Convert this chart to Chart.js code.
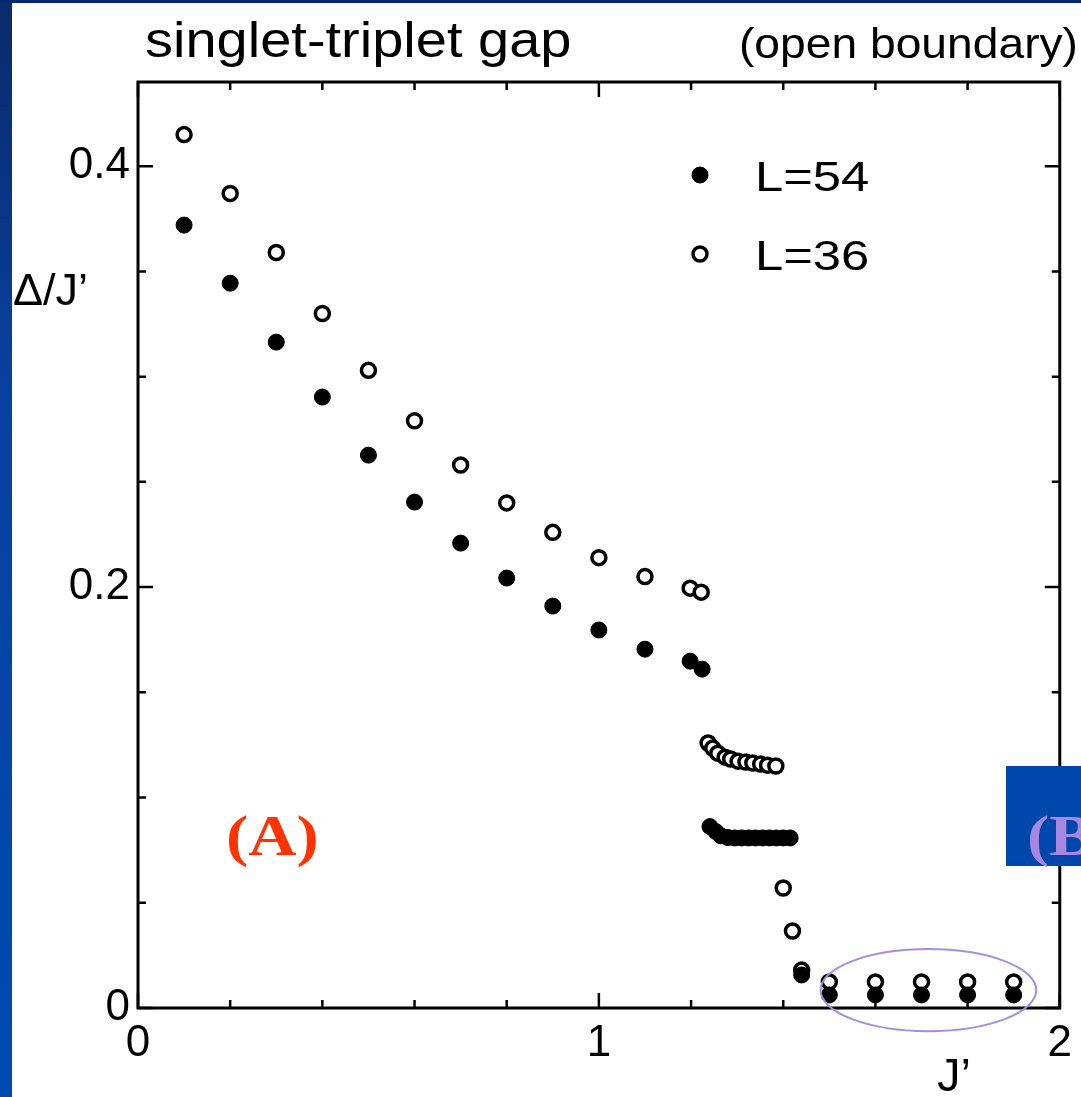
<!DOCTYPE html>
<html>
<head>
<meta charset="utf-8">
<script src="https://cdn.jsdelivr.net/npm/chart.js@4.4.0/dist/chart.umd.min.js"></script>
<style>
  html, body { margin: 0; padding: 0; background: #fff; overflow: hidden; }
  canvas { display: block; }
</style>
</head>
<body>
<canvas id="gapChart" width="1081" height="1097"></canvas>
<script>
// singlet-triplet gap vs J', two chain lengths
const jL54 = [0.1, 0.2, 0.3, 0.4, 0.5, 0.6, 0.7, 0.8, 0.9, 1.0, 1.1, 1.198, 1.224,
  1.241, 1.254, 1.265, 1.28, 1.295, 1.31, 1.325, 1.34, 1.355, 1.37, 1.385, 1.40, 1.415,
  1.44, 1.5, 1.6, 1.7, 1.8, 1.9];
const gapL54 = [0.372, 0.3444, 0.3164, 0.2903, 0.2627, 0.2404, 0.2209, 0.2043, 0.191, 0.1796, 0.1705, 0.1648, 0.161,
  0.0862, 0.0838, 0.0818, 0.0810, 0.0808, 0.0808, 0.0808, 0.0808, 0.0808, 0.0808, 0.0808, 0.0808, 0.0808,
  0.0157, 0.0062, 0.0062, 0.0062, 0.0062, 0.0062];

const jL36 = [0.1, 0.2, 0.3, 0.4, 0.5, 0.6, 0.7, 0.8, 0.9, 1.0, 1.1, 1.198, 1.222,
  1.237, 1.247, 1.258, 1.274, 1.286, 1.302, 1.319, 1.334, 1.351, 1.366, 1.384,
  1.40, 1.42, 1.44, 1.5, 1.6, 1.7, 1.8, 1.9];
const gapL36 = [0.415, 0.387, 0.359, 0.330, 0.303, 0.279, 0.258, 0.240, 0.226, 0.214, 0.205, 0.1995, 0.1976,
  0.1259, 0.1235, 0.1211, 0.1192, 0.1183, 0.1173, 0.1169, 0.1164, 0.1159, 0.1154, 0.1150,
  0.057, 0.0366, 0.018, 0.0124, 0.0124, 0.0124, 0.0124, 0.0124];

const xTickVals = [0, 0.2, 0.4, 0.6, 0.8, 1, 1.2, 1.4, 1.6, 1.8, 2];
const xTickLabels = ['0', '', '', '', '', '1', '', '', '', '', '2'];
const yTickVals = [0, 0.05, 0.1, 0.15, 0.2, 0.25, 0.3, 0.35, 0.4];
const yTickLabels = ['0', '', '', '', '0.2', '', '', '', '0.4'];

const SANS = '"Liberation Sans", Arial, sans-serif';
const SERIF = '"Liberation Serif", "Times New Roman", serif';

// text with a horizontal stretch, like the slide's widened lettering
function stretchText(ctx, text, x, y, font, color, sx, align) {
  ctx.save();
  ctx.font = font;
  ctx.fillStyle = color;
  ctx.textBaseline = 'alphabetic';
  const w = ctx.measureText(text).width * sx;
  const left = align === 'right' ? x - w : x;
  ctx.translate(left, y);
  ctx.scale(sx, 1);
  ctx.textAlign = 'left';
  ctx.fillText(text, 0, 0);
  ctx.restore();
}

const paper = {
  id: 'paper',
  beforeDraw(chart) {
    const { ctx, width, height } = chart;
    ctx.save();
    ctx.fillStyle = '#fff';
    ctx.fillRect(0, 0, width, height);
    const g = ctx.createLinearGradient(0, 0, 0, height);
    g.addColorStop(0, '#0a2a68');
    g.addColorStop(0.35, '#0840a0');
    g.addColorStop(1, '#004bb0');
    ctx.fillStyle = g;
    ctx.fillRect(0, 0, 12, height);
    ctx.fillStyle = '#03296a';
    ctx.fillRect(0, 0, width, 3);
    ctx.restore();
  },
  beforeDatasetsDraw(chart) {
    const { ctx, chartArea: a, scales: { x, y } } = chart;
    ctx.save();
    ctx.strokeStyle = '#000';
    ctx.lineWidth = 2.5;
    // inward ticks on all four sides
    x.ticks.forEach((t, i) => {
      const px = x.getPixelForValue(t.value);
      const len = xTickLabels[i] ? 15 : 8;
      ctx.beginPath();
      ctx.moveTo(px, a.bottom); ctx.lineTo(px, a.bottom - len);
      ctx.moveTo(px, a.top); ctx.lineTo(px, a.top + len);
      ctx.stroke();
    });
    y.ticks.forEach((t, i) => {
      const py = y.getPixelForValue(t.value);
      const len = yTickLabels[i] ? 15 : 8;
      ctx.beginPath();
      ctx.moveTo(a.left, py); ctx.lineTo(a.left + len, py);
      ctx.moveTo(a.right, py); ctx.lineTo(a.right - len, py);
      ctx.stroke();
    });
    ctx.lineWidth = 3;
    ctx.strokeRect(a.left, a.top, a.right - a.left, a.bottom - a.top);
    ctx.restore();
  },
  afterDatasetsDraw(chart) {
    const { ctx, scales: { x, y } } = chart;
    ctx.save();

    // headings and axis names
    stretchText(ctx, 'singlet-triplet gap', 145, 57, '50px ' + SANS, '#000', 1.12, 'left');
    stretchText(ctx, '(open boundary)', 1078, 58, '42px ' + SANS, '#000', 1.1, 'right');
    stretchText(ctx, 'Δ/J’', 13, 305, '45px ' + SANS, '#000', 1, 'left');
    stretchText(ctx, 'J’', 937, 1091, '47px ' + SANS, '#000', 1, 'left');

    // legend
    const rows = [175, 254];
    chart.data.datasets.forEach((ds, i) => {
      const cy = rows[i];
      ctx.beginPath();
      ctx.arc(700, cy, ds.pointRadius, 0, Math.PI * 2);
      ctx.fillStyle = ds.pointBackgroundColor;
      ctx.fill();
      ctx.lineWidth = ds.pointBorderWidth;
      ctx.strokeStyle = ds.pointBorderColor;
      ctx.stroke();
      stretchText(ctx, ds.label, 755, cy + 16, '43px ' + SANS, '#000', 1.18, 'left');
    });

    // ring around the small-gap points
    const cx = x.getPixelForValue(1.715);
    const rx = x.getPixelForValue(1.715 + 0.234) - cx;
    const cy = y.getPixelForValue(0.0085);
    const ry = cy - y.getPixelForValue(0.0085 + 0.0195);
    ctx.beginPath();
    ctx.ellipse(cx, cy, rx, ry, 0, 0, Math.PI * 2);
    ctx.strokeStyle = '#a58ee0';
    ctx.lineWidth = 2;
    ctx.stroke();

    // phase labels
    stretchText(ctx, '(A)', 226, 855, 'bold 58px ' + SERIF, '#ff3300', 1.15, 'left');
    ctx.fillStyle = '#0047ab';
    ctx.fillRect(1006, 766, 75, 100);
    stretchText(ctx, '(B', 1027, 855, 'bold 58px ' + SERIF, '#a987e0', 1.15, 'left');
    ctx.restore();
  }
};

const tickFont = { family: SANS, size: 44 };

new Chart(document.getElementById('gapChart'), {
  type: 'scatter',
  data: {
    datasets: [
      {
        label: 'L=54',
        data: jL54.map((j, i) => ({ x: j, y: gapL54[i] })),
        pointRadius: 8,
        pointHoverRadius: 8,
        pointBackgroundColor: '#000',
        pointBorderColor: '#000',
        pointBorderWidth: 1
      },
      {
        label: 'L=36',
        data: jL36.map((j, i) => ({ x: j, y: gapL36[i] })),
        pointRadius: 7,
        pointHoverRadius: 7,
        pointBackgroundColor: '#fff',
        pointBorderColor: '#000',
        pointBorderWidth: 3.5
      }
    ]
  },
  options: {
    responsive: false,
    animation: false,
    devicePixelRatio: 1,
    layout: { padding: { top: 82, right: 18, left: 0, bottom: 0 } },
    plugins: { legend: { display: false }, tooltip: { enabled: false } },
    scales: {
      x: {
        type: 'linear', min: 0, max: 2,
        afterBuildTicks: s => { s.ticks = xTickVals.map(v => ({ value: v })); },
        afterFit: s => { s.height = 89; },
        grid: { display: false, drawTicks: false },
        border: { display: false },
        ticks: { callback: (v, i) => xTickLabels[i], font: tickFont, color: '#000', padding: 9, maxRotation: 0, autoSkip: false }
      },
      y: {
        type: 'linear', min: 0, max: 0.44,
        afterBuildTicks: s => { s.ticks = yTickVals.map(v => ({ value: v })); },
        afterFit: s => { s.width = 138; },
        grid: { display: false, drawTicks: false },
        border: { display: false },
        ticks: { callback: (v, i) => yTickLabels[i], font: tickFont, color: '#000', padding: 8, autoSkip: false }
      }
    }
  },
  plugins: [paper]
});
</script>
</body>
</html>
